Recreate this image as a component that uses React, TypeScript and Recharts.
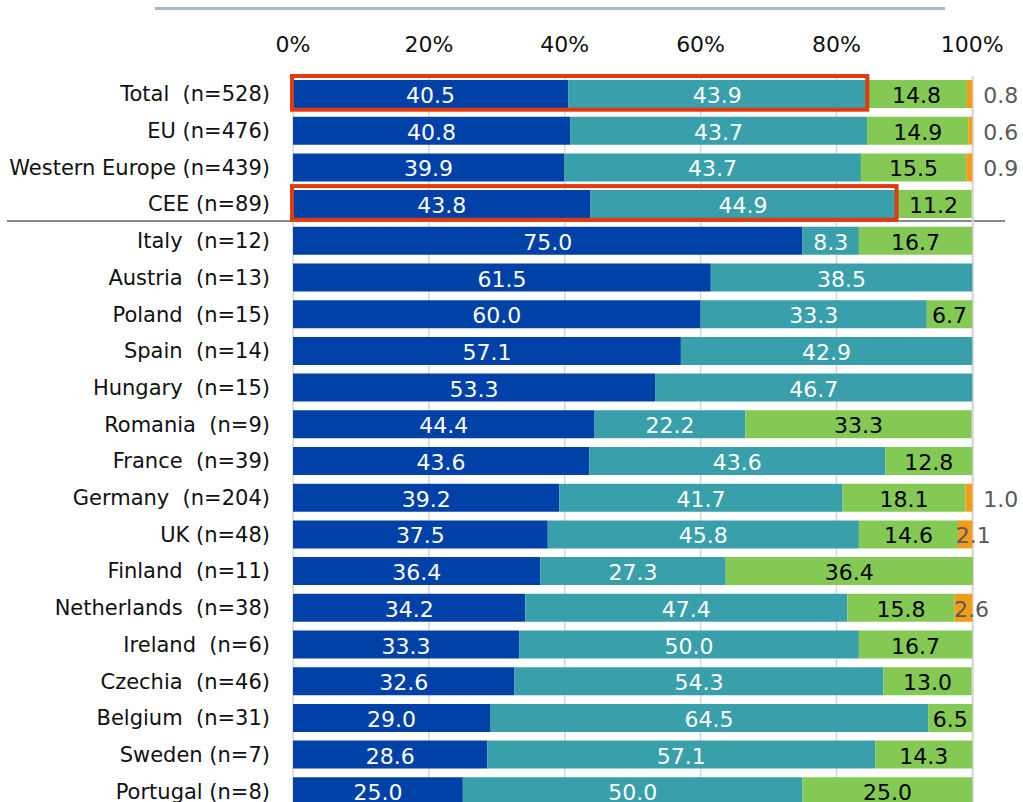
import { BarChart, Bar, XAxis, YAxis, CartesianGrid, LabelList, ReferenceArea } from "recharts";

const groups = [
  "Total  (n=528)",
  "EU (n=476)",
  "Western Europe (n=439)",
  "CEE (n=89)",
  "Italy  (n=12)",
  "Austria  (n=13)",
  "Poland  (n=15)",
  "Spain  (n=14)",
  "Hungary  (n=15)",
  "Romania  (n=9)",
  "France  (n=39)",
  "Germany  (n=204)",
  "UK (n=48)",
  "Finland  (n=11)",
  "Netherlands  (n=38)",
  "Ireland  (n=6)",
  "Czechia  (n=46)",
  "Belgium  (n=31)",
  "Sweden (n=7)",
  "Portugal (n=8)",
];

const blueVals = [40.5, 40.8, 39.9, 43.8, 75.0, 61.5, 60.0, 57.1, 53.3, 44.4, 43.6, 39.2, 37.5, 36.4, 34.2, 33.3, 32.6, 29.0, 28.6, 25.0];
const tealVals = [43.9, 43.7, 43.7, 44.9, 8.3, 38.5, 33.3, 42.9, 46.7, 22.2, 43.6, 41.7, 45.8, 27.3, 47.4, 50.0, 54.3, 64.5, 57.1, 50.0];
const greenVals = [14.8, 14.9, 15.5, 11.2, 16.7, 0, 6.7, 0, 0, 33.3, 12.8, 18.1, 14.6, 36.4, 15.8, 16.7, 13.0, 6.5, 14.3, 25.0];
const orangeVals = [0.8, 0.6, 0.9, 0, 0, 0, 0, 0, 0, 0, 0, 1.0, 2.1, 0, 2.6, 0, 0, 0, 0, 0];

const percentTicks = [0, 20, 40, 60, 80, 100];
const highlighted = ["Total  (n=528)", "CEE (n=89)"];

const data = groups.map((name, i) => ({
  name,
  blue: blueVals[i],
  teal: tealVals[i],
  green: greenVals[i],
  orange: orangeVals[i],
}));

const FONT = "'DejaVu Sans', Verdana, sans-serif";

const CategoryTick = ({ x, y, payload }: any) => (
  <text x={x} y={y} dy={7} textAnchor="end" fontSize={21} fontFamily={FONT} fill="#111" style={{ whiteSpace: "pre" }}>
    {payload.value}
  </text>
);

const inside = (color: string) => (props: any) => {
  const { x, y, width, height, value } = props;
  if (!value) return null;
  return (
    <text x={x + width / 2} y={y + height / 2 + 9} textAnchor="middle" fontSize={22} fontFamily={FONT} fill={color}>
      {Number(value).toFixed(1)}
    </text>
  );
};

const outside = (props: any) => {
  const { x, y, width, height, value } = props;
  if (!value) return null;
  const small = value < 2;
  return (
    <text
      x={small ? x + width + 11 : x + width / 2 + 8}
      y={y + height / 2 + 9}
      textAnchor={small ? "start" : "middle"}
      fontSize={22}
      fontFamily={FONT}
      fill="#595959"
    >
      {Number(value).toFixed(1)}
    </text>
  );
};

export default function App() {
  return (
    <div style={{ position: "absolute", left: 0, top: 0, width: 1023, height: 802, overflow: "hidden", background: "#fff" }}>
      <div style={{ position: "absolute", left: 155, top: 7, width: 790, height: 3, background: "#a9b7cb" }} />
      <div style={{ position: "absolute", left: 7, top: 220, width: 998, height: 2, background: "#8a8a8a" }} />
      <div style={{ position: "absolute", left: 0, top: 0 }}>
        <BarChart
          width={1023}
          height={830}
          data={data}
          layout="vertical"
          barSize={28}
          margin={{ top: 0, right: 50, bottom: 20, left: 0 }}
        >
          <CartesianGrid horizontal={false} stroke="#d6d6d6" strokeWidth={1.5} />
          <XAxis
            type="number"
            orientation="top"
            domain={[0, 100]}
            ticks={percentTicks}
            tickFormatter={(v: number) => `${v}%`}
            axisLine={false}
            tickLine={false}
            tickSize={0}
            tickMargin={24}
            height={76}
            tick={{ fill: "#111", fontSize: 22, fontFamily: FONT }}
          />
          <YAxis
            type="category"
            dataKey="name"
            width={293}
            axisLine={false}
            tickLine={false}
            tickSize={0}
            tickMargin={23}
            interval={0}
            tick={<CategoryTick />}
          />
          <Bar dataKey="blue" stackId="a" fill="#0041a8" isAnimationActive={false}>
            <LabelList dataKey="blue" content={inside("#ffffff")} />
          </Bar>
          <Bar dataKey="teal" stackId="a" fill="#389fab" isAnimationActive={false}>
            <LabelList dataKey="teal" content={inside("#ffffff")} />
          </Bar>
          <Bar dataKey="green" stackId="a" fill="#84c954" isAnimationActive={false}>
            <LabelList dataKey="green" content={inside("#000000")} />
          </Bar>
          <Bar dataKey="orange" stackId="a" fill="#f39c1a" isAnimationActive={false}>
            <LabelList dataKey="orange" content={outside} />
          </Bar>
          {highlighted.map((name) => {
            const row = data.find((d) => d.name === name)!;
            return (
              <ReferenceArea
                key={name}
                x1={0}
                x2={row.blue + row.teal}
                y1={name}
                y2={name}
                fill="none"
                fillOpacity={0}
                stroke="#e2390e"
                strokeWidth={4}
                ifOverflow="visible"
                zIndex={1500}
                shape={(p: any) => (
                  <rect x={p.x - 1} y={p.y} width={p.width + 2} height={p.height - 3} fill="none" stroke="#e2390e" strokeWidth={4} />
                )}
              />
            );
          })}
        </BarChart>
      </div>
    </div>
  );
}
